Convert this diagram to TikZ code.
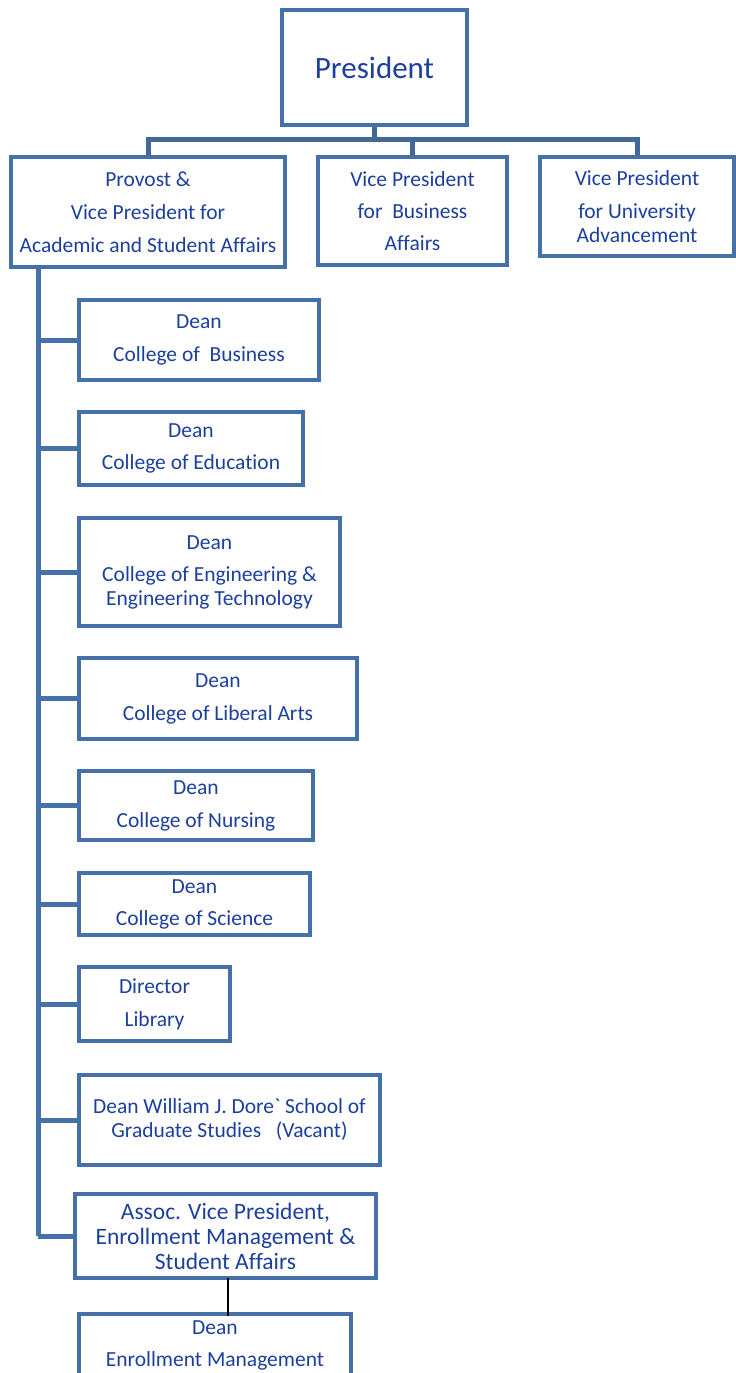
\documentclass[tikz,border=0pt]{standalone}
\usepackage{fontspec}
\setmainfont{Carlito}[Ligatures={TeX,NoCommon}, Contextuals={NoAlternate}]
\definecolor{linkblue}{HTML}{4670A8}
\definecolor{busblue}{HTML}{426896}
\definecolor{textblue}{HTML}{1C3F9E}
\begin{document}
\begin{tikzpicture}[x=1pt,y=-1pt,
  box/.style={draw=linkblue, line width=4pt, rectangle, inner sep=0pt,
    align=center, text=textblue, font=\fontsize{21.5}{24}\selectfont},
  conn/.style={draw=linkblue, line width=5pt},
  topconn/.style={draw=busblue, line width=5pt}]
\useasboundingbox (0,0) rectangle (736,1373);

% top level
\node[box, minimum width=185pt, minimum height=115pt, font=\fontsize{31}{36}\selectfont]
  (pres) at (374.5,67.5) {President};
\node[box, minimum width=274pt, minimum height=110pt] (prov) at (148,212)
  {Provost \&\\[9pt]Vice President for\\[9pt]Academic and Student Affairs};
\node[box, minimum width=189pt, minimum height=108pt] (vpb) at (412.5,211)
  {Vice President\\[8pt]for\ \ Business\\[8pt]Affairs};
\node[box, minimum width=194pt, minimum height=99pt] (vpu) at (637,206.5)
  {Vice President\\[9pt]for University\\Advancement};

% colleges and units under the provost
\node[box, minimum width=240pt, minimum height=80pt] (bus) at (199,340)
  {Dean\\[9pt]College of\ \ Business};
\node[box, minimum width=224pt, minimum height=73pt] (edu) at (191,448.5)
  {Dean\\[8pt]College of Education};
\node[box, minimum width=261pt, minimum height=108pt] (eng) at (209.5,572)
  {Dean\\[8pt]College of Engineering \&\\Engineering Technology};
\node[box, minimum width=278pt, minimum height=81pt] (lib) at (218,698.5)
  {Dean\\[9pt]College of Liberal Arts};
\node[box, minimum width=234pt, minimum height=69pt] (nur) at (196,805.5)
  {Dean\\[9pt]College of Nursing};
\node[box, minimum width=231pt, minimum height=62pt] (sci) at (194.5,904)
  {Dean\\[8pt]College of Science};
\node[box, minimum width=151pt, minimum height=74pt] (lbr) at (154.5,1004)
  {Director\\[9pt]Library};
\node[box, minimum width=301pt, minimum height=90pt] (grad) at (229.5,1120)
  {Dean William J. Dore\textasciigrave\ School of\\Graduate Studies\ \ \ (Vacant)};
\node[box, minimum width=301pt, minimum height=84pt, font=\fontsize{23.5}{25}\selectfont]
  (avp) at (225.5,1236)
  {Assoc. Vice President,\\Enrollment Management \&\\Student Affairs};
\node[box, minimum width=272pt, minimum height=62pt] (enr) at (215,1345)
  {Dean\\[8pt]Enrollment Management};

% president to vice presidents
\coordinate (busline) at (0,139.5);
\coordinate (spine) at (38,0);
\coordinate (enrlink) at (228,0);
\draw[topconn] (pres.south) -- (pres.south |- busline);
\draw[topconn] (prov.north) -- (prov.north |- busline) -- (vpu.north |- busline) -- (vpu.north);
\draw[topconn] (vpb.north) -- (vpb.north |- busline);

% provost spine and branches
\draw[conn] (prov.south -| spine) -- (avp.west -| spine);
\foreach \n in {bus,edu,eng,lib,nur,sci,lbr,grad,avp}
  \draw[conn] (\n.west -| spine) -- (\n.west);

% enrollment management link
\draw[black, line width=2pt] ([yshift=2pt]avp.south -| enrlink) -- ([yshift=-4pt]enr.north -| enrlink);
\end{tikzpicture}
\end{document}
